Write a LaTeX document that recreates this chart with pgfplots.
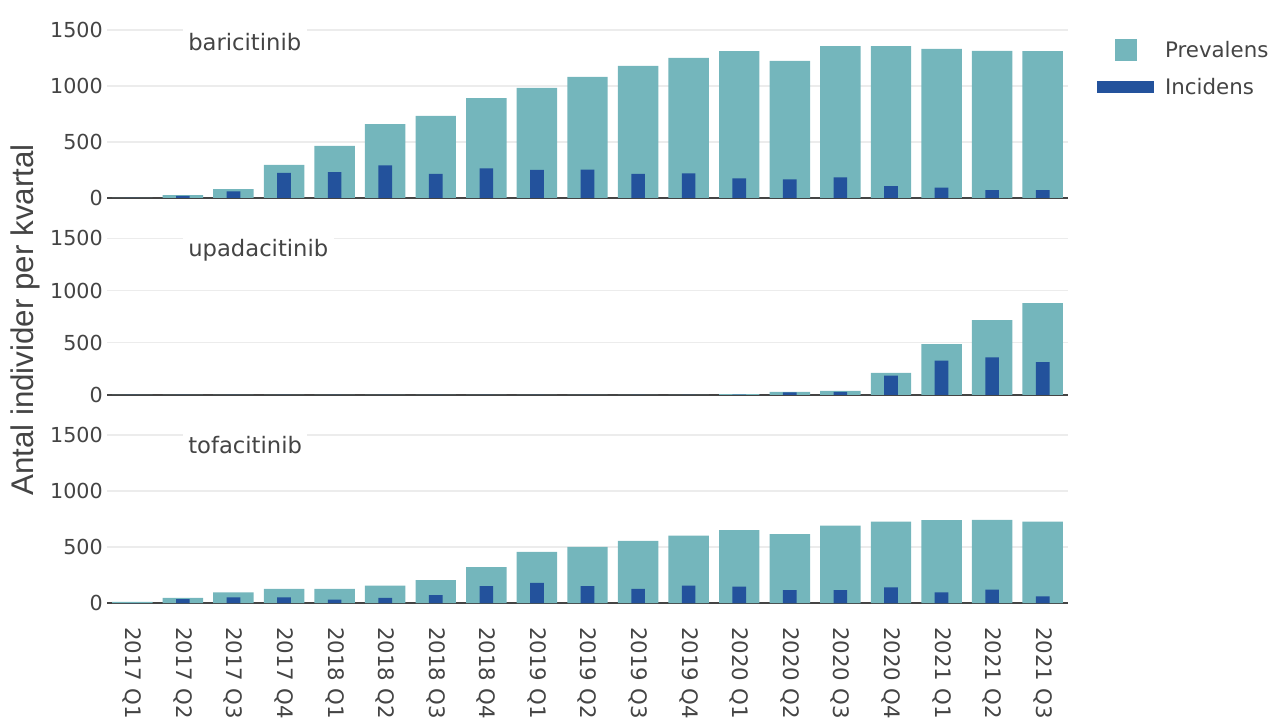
\documentclass[border=0pt]{standalone}
\usepackage{pgfplots}
\pgfplotsset{compat=1.18}
\usepackage{pgfplotstable}
\usepackage{fontspec}
\setmainfont{DejaVu Sans}
\newfontfamily\labfont{Liberation Sans}
\definecolor{prev}{RGB}{116,182,188}
\definecolor{inc}{RGB}{35,82,156}
\definecolor{txt}{RGB}{68,68,68}
\definecolor{gridc}{RGB}{236,236,236}
\definecolor{zline}{RGB}{68,68,68}

\pgfplotstableread{
x bp bi up ui tp ti
0 0 0 0 0 10 0
1 25 20 0 0 45 35
2 80 60 0 0 95 50
3 295 225 0 0 125 50
4 465 230 0 0 125 30
5 660 290 0 0 155 45
6 732 215 0 0 205 70
7 890 265 0 0 320 150
8 982 250 0 0 455 180
9 1080 252 0 0 500 150
10 1178 215 0 0 555 125
11 1250 220 0 0 600 155
12 1310 175 8 3 650 145
13 1223 165 30 25 615 115
14 1355 185 40 30 690 115
15 1355 105 212 185 725 140
16 1330 92 487 330 740 95
17 1312 70 716 360 742 120
18 1310 70 880 315 725 60
}\data

\tikzset{plab/.style={anchor=west, fill=white, inner xsep=4pt, inner ysep=5pt, text=txt, font=\fontsize{17}{20}\selectfont}}

\pgfplotsset{
  panel/.style={
    scale only axis, width=720.75pt, anchor=south west,
    xmin=-0.5, xmax=18.5, ymin=0, ymax=1570,
    ybar,
    axis lines*=left,
    x axis line style={draw=zline, line width=1.3pt},
    y axis line style={draw=none},
    major tick length=0pt,
    ytick={0,500,1000,1500},
    ymajorgrids,
    grid style={draw=gridc, line width=1pt},
    xtick={0,...,18},
    scaled y ticks=false,
    /pgf/number format/assume math mode=true,
    /pgf/number format/1000 sep={},
    yticklabel style={font=\fontsize{15.5}{18}\selectfont, text=txt, inner sep=0pt},
    yticklabel shift=3pt,
    xticklabels={},
  },
}

\begin{document}
\begin{tikzpicture}
\path[use as bounding box] (0,0) rectangle (958.5pt,543.75pt);

% Panel 1: baricitinib
\begin{axis}[panel, at={(80.25pt,395.25pt)}, height=132pt,
  legend style={at={(axis description cs:1.030,0.946)}, anchor=north west,
    draw=none, fill=none, inner sep=0pt, row sep=0pt,
    font=\fontsize{16}{19}\selectfont, text=txt,
    nodes={inner sep=0pt},
    /tikz/every odd column/.append style={column sep=8.25pt}},
  legend cell align=left]
\addplot[fill=prev, draw=none, bar width=0.8, bar shift=0pt,
  legend image code/.code={\path[fill=none,draw=none] (0pt,-13.875pt) rectangle (42.75pt,13.875pt);
    \fill[prev] (13.1pt,-8.25pt) rectangle (29.6pt,8.25pt);}]
  table[x=x,y=bp]{\data};
\addlegendentry{Prevalens}
\addplot[fill=inc, draw=none, bar width=0.27, bar shift=0pt,
  legend image code/.code={\path[fill=none,draw=none] (0pt,-13.875pt) rectangle (42.75pt,13.875pt);
    \fill[inc] (0pt,-4.5pt) rectangle (42.75pt,4.5pt);}]
  table[x=x,y=bi]{\data};
\addlegendentry{Incidens}
\node[plab] at (rel axis cs:0.0788,0.886) {baricitinib};
\end{axis}

% Panel 2: upadacitinib
\begin{axis}[panel, at={(80.25pt,247.5pt)}, height=123pt]
\addplot[fill=prev, draw=none, bar width=0.8, bar shift=0pt] table[x=x,y=up]{\data};
\addplot[fill=inc, draw=none, bar width=0.27, bar shift=0pt] table[x=x,y=ui]{\data};
\node[plab] at (rel axis cs:0.0788,0.884) {upadacitinib};
\end{axis}

% Panel 3: tofacitinib
\begin{axis}[panel, at={(80.25pt,91.5pt)}, height=132pt,
  xticklabels={2017 Q1,2017 Q2,2017 Q3,2017 Q4,2018 Q1,2018 Q2,2018 Q3,2018 Q4,2019 Q1,2019 Q2,2019 Q3,2019 Q4,2020 Q1,2020 Q2,2020 Q3,2020 Q4,2021 Q1,2021 Q2,2021 Q3},
  xticklabel style={rotate=-90, anchor=west, inner sep=0pt, text=txt, font=\fontsize{16}{19}\selectfont},
  xticklabel shift=18pt]
\addplot[fill=prev, draw=none, bar width=0.8, bar shift=0pt] table[x=x,y=tp]{\data};
\addplot[fill=inc, draw=none, bar width=0.27, bar shift=0pt] table[x=x,y=ti]{\data};
\node[plab] at (rel axis cs:0.0788,0.898) {tofacitinib};
\end{axis}

\node[rotate=90, text=txt, font=\labfont\fontsize{23.5}{27}\selectfont] at (18.75pt,303.75pt) {Antal individer per kvartal};
\end{tikzpicture}
\end{document}
